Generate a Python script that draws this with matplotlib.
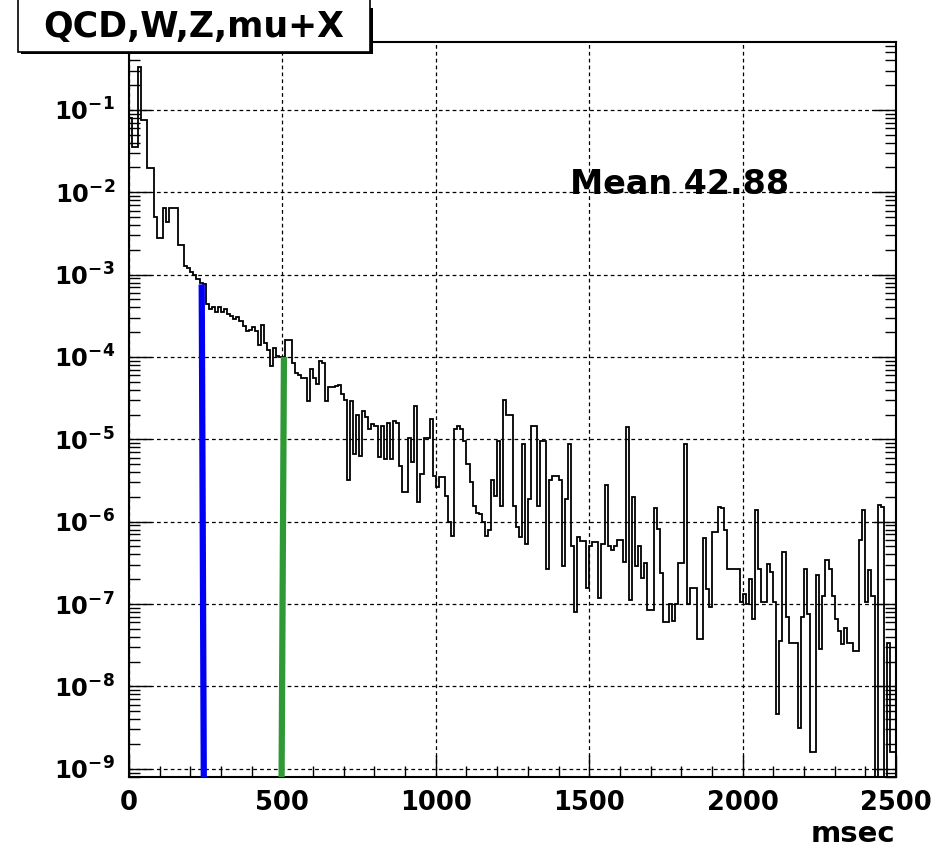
import numpy as np
import matplotlib
matplotlib.use("Agg")
import matplotlib.pyplot as plt
from matplotlib.ticker import FixedLocator, MultipleLocator, NullFormatter
from matplotlib.patches import Rectangle

plt.rcParams['font.family'] = ['DejaVu Sans']
plt.rcParams['mathtext.fontset'] = 'dejavusans'

# histogram: 250 bins of 10 msec, heights as log10 of the fraction (None = empty bin)
bin_width = 10
log10_frac = [
    -1.10, -1.45, -1.45, -0.48, -1.12, -1.12, -1.70, -1.70, -2.30, -2.56,
    -2.56, -2.19, -2.36, -2.19, -2.19, -2.19, -2.64, -2.64, -2.90, -2.92,
    -2.97, -3.00, -3.05, -3.10, -3.12, -3.36, -3.42, -3.39, -3.45, -3.39,
    -3.46, -3.42, -3.48, -3.50, -3.54, -3.52, -3.56, -3.63, -3.69, -3.67,
    -3.64, -3.69, -3.85, -3.61, -3.83, -3.91, -4.11, -3.89, -3.99, -4.00,
    -4.00, -3.79, -3.80, -4.07, -4.19, -4.22, -4.25, -4.25, -4.54, -4.15,
    -4.25, -4.33, -4.05, -4.07, -4.54, -4.37, -4.37, -4.35, -4.34, -4.45,
    -4.52, -5.50, -4.54, -5.18, -4.70, -5.20, -4.66, -4.73, -4.88, -4.82,
    -4.84, -5.22, -4.84, -5.24, -4.80, -5.24, -4.78, -4.80, -5.33, -5.64,
    -5.64, -4.98, -5.27, -4.60, -5.76, -5.42, -4.98, -4.98, -4.75, -5.44,
    -5.58, -5.46, -5.46, -5.69, -6.00, -6.17, -4.88, -4.84, -4.88, -5.02,
    -5.30, -5.52, -5.81, -5.89, -5.91, -6.00, -6.17, -6.10, -5.50, -5.69,
    -5.02, -5.81, -4.52, -4.70, -4.70, -5.81, -6.07, -6.19, -5.06, -6.27,
    -5.73, -4.84, -4.84, -5.81, -5.02, -5.02, -6.58, -5.50, -5.45, -5.45,
    -5.50, -6.54, -5.73, -5.06, -6.30, -7.10, -6.19, -6.24, -6.24, -6.80,
    -6.30, -6.25, -6.25, -6.93, -6.27, -5.56, -6.30, -6.34, -6.30, -6.22,
    -6.22, -6.49, -4.85, -6.95, -5.70, -6.54, -6.30, -6.68, -6.50, -7.07,
    -7.07, -5.84, -6.09, -6.62, -7.22, -7.22, -7.00, -7.20, -7.00, -6.50,
    -6.50, -5.06, -7.00, -6.80, -6.80, -7.42, -7.42, -6.20, -6.82, -7.04,
    -6.12, -6.12, -5.82, -5.84, -6.10, -6.57, -6.57, -6.57, -6.57, -6.98,
    -6.88, -7.00, -6.69, -7.18, -5.86, -6.57, -6.98, -6.98, -6.51, -6.61,
    -6.98, -8.33, -7.45, -6.37, -7.16, -7.47, -7.47, -7.47, -8.51, -7.16,
    -6.57, -7.12, -8.80, -8.80, -6.65, -7.55, -6.90, -6.47, -6.57, -6.90,
    -7.18, -7.33, -7.49, -7.29, -7.47, -7.47, -7.57, -7.57, -6.22, -5.86,
    -6.98, -6.59, -6.90, None, -5.80, -5.82, None, -7.47, -8.80, -8.80,
]

# cut lines (msec, fraction) top and bottom points
blue_x = [237, 247]
blue_y = [7.6e-4, 1e-12]
green_x = [505, 493]
green_y = [1.0e-4, 1e-12]

title_text = "QCD,W,Z,mu+X"
mean_text = "Mean 42.88"
decades = [-9, -8, -7, -6, -5, -4, -3, -2, -1]
x_ticks = [0, 500, 1000, 1500, 2000, 2500]

W, H = 949, 849
def fx(px):
    return px / W
def fy(py):
    return 1 - py / H

vals = np.array([1e-20 if v is None else 10.0 ** v for v in log10_frac])
edges = np.arange(len(vals) + 1) * bin_width

fig = plt.figure(figsize=(W / 100, H / 100), dpi=100)
ax = fig.add_axes([fx(129), fy(777), fx(896) - fx(129), fy(42) - fy(777)])

ax.stairs(vals, edges, baseline=None, color='black', linewidth=1.3, zorder=3)
ax.plot(blue_x, blue_y, color='#0000f5', linewidth=4.5, zorder=4, solid_capstyle='butt')
ax.plot(green_x, green_y, color='#2f9a35', linewidth=4.5, zorder=4, solid_capstyle='butt')

ax.set_yscale('log')
ax.set_xlim(0, 2500)
ax.set_ylim(10 ** -9.1, 10 ** -0.176)

ax.yaxis.set_major_locator(FixedLocator([10.0 ** d for d in decades]))
ax.set_yticklabels([r'$\mathbf{10^{%d}}$' % d for d in decades])
minor = [m * 10.0 ** d for d in range(-10, 0) for m in range(2, 10)]
ax.yaxis.set_minor_locator(FixedLocator(minor))
ax.yaxis.set_minor_formatter(NullFormatter())

ax.set_xticks(x_ticks)
ax.set_xticklabels([str(t) for t in x_ticks])
ax.xaxis.set_minor_locator(MultipleLocator(100))

ax.tick_params(which='both', direction='in', right=True, top=False, width=1.0, color='black')
ax.tick_params(which='major', length=16)
ax.tick_params(which='minor', length=8)
ax.tick_params(axis='y', which='major', pad=10, labelsize=17.5)
ax.tick_params(axis='x', which='major', pad=9, labelsize=18.5)
for lab in ax.get_xticklabels():
    lab.set_fontweight('bold')

ax.grid(which='major', color='black', linestyle=(0, (3, 2.5)), linewidth=0.9)
for s in ax.spines.values():
    s.set_linewidth(1.5)

fig.text(fx(895), fy(834), "msec", ha='right', va='center', fontsize=21, fontweight='bold')
fig.text(fx(570), fy(185), mean_text, ha='left', va='center', fontsize=24, fontweight='bold')

# title pave with a thin shadow on the right
fig.add_artist(Rectangle((fx(21), fy(54)), fx(373) - fx(21), fy(8) - fy(54),
                         transform=fig.transFigure, facecolor='black', edgecolor='none', zorder=5))
fig.add_artist(Rectangle((fx(18), fy(52)), fx(370) - fx(18), fy(-10) - fy(52),
                         transform=fig.transFigure, facecolor='white', edgecolor='black',
                         linewidth=1.2, zorder=6))
fig.text(fx(194), fy(27), title_text, ha='center', va='center', fontsize=25,
         fontweight='bold', zorder=7)

fig.savefig('out.png', dpi=100)
